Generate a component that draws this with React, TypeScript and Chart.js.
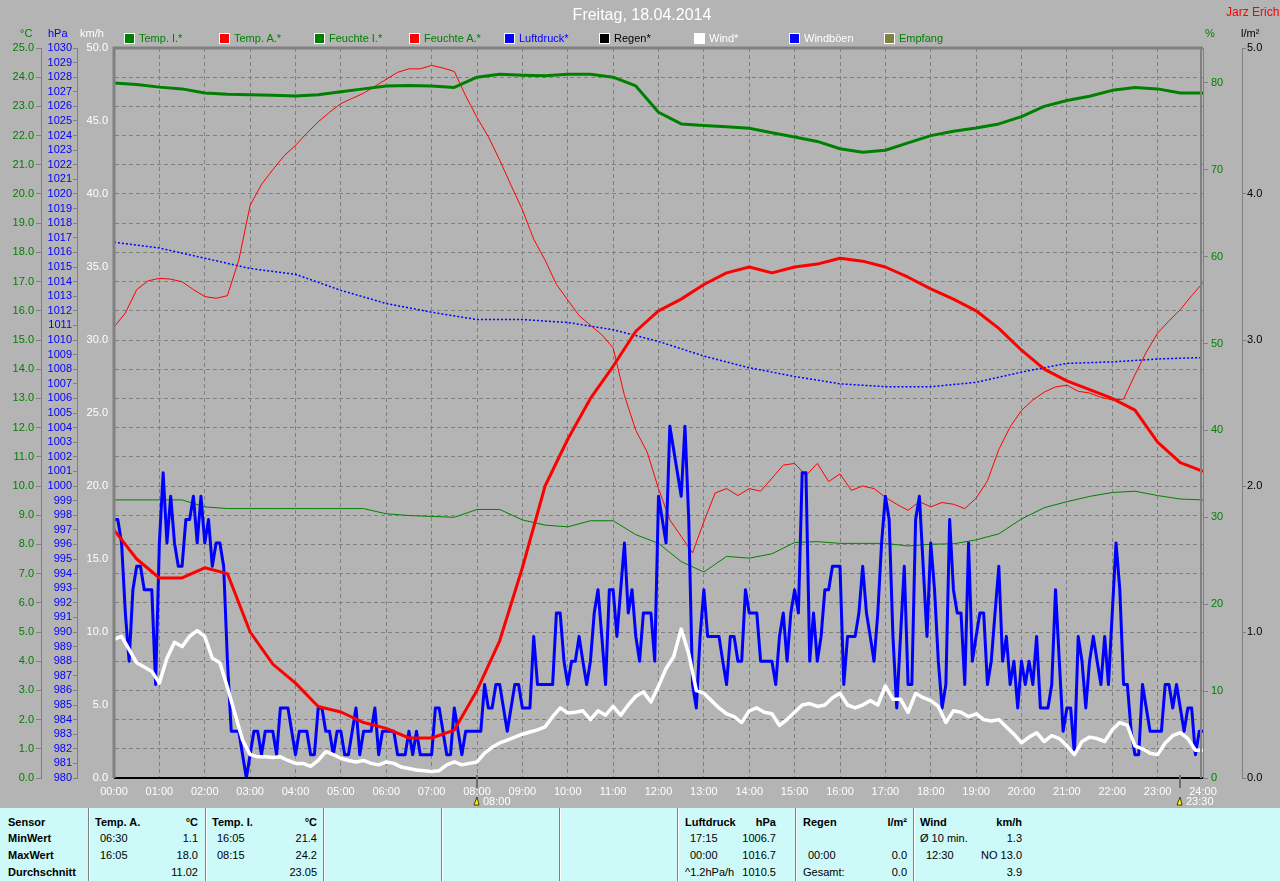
import React, { useEffect, useRef } from "react";
import { Chart, registerables } from "chart.js";

Chart.register(...registerables);

// ---------------- data ----------------
const hourLabels = Array.from({ length: 25 }, (_, h) => `${String(h).padStart(2, "0")}:00`);

// Temp. I. (°C), every 30 minutes
const tempInside = [
  23.8, 23.75, 23.66, 23.6, 23.46, 23.42, 23.4, 23.38, 23.36, 23.4, 23.5, 23.6,
  23.7, 23.72, 23.7, 23.65, 24.0, 24.1, 24.07, 24.05, 24.1, 24.1, 24.0, 23.7,
  22.8, 22.4, 22.35, 22.3, 22.25, 22.1, 21.95, 21.8, 21.55, 21.43, 21.5, 21.75,
  22.0, 22.15, 22.26, 22.4, 22.65, 23.0, 23.2, 23.35, 23.55, 23.65, 23.6, 23.46,
  23.46,
];

// Temp. A. (°C), every 30 minutes
const tempOutside = [
  8.5, 7.5, 6.85, 6.85, 7.2, 7.0, 5.0, 3.9, 3.25, 2.45, 2.26, 1.9,
  1.7, 1.37, 1.37, 1.64, 3.0, 4.7, 7.2, 10.0, 11.6, 13.0, 14.1, 15.3,
  16.0, 16.4, 16.9, 17.3, 17.5, 17.3, 17.5, 17.6, 17.8, 17.7, 17.5, 17.15,
  16.75, 16.4, 16.0, 15.4, 14.65, 14.0, 13.6, 13.3, 13.0, 12.6, 11.5, 10.8,
  10.5,
];

// Feuchte I. (%), every 30 minutes
const humInside = [
  32.0, 32.0, 32.0, 32.0, 31.2, 31.0, 31.0, 31.0, 31.0, 31.0, 31.0, 31.0,
  30.4, 30.2, 30.1, 30.0, 30.9, 30.9, 29.7, 29.1, 28.9, 29.6, 29.6, 28.0,
  27.0, 24.9, 23.7, 25.5, 25.3, 25.8, 27.1, 27.2, 27.0, 27.0, 27.0, 26.7,
  26.9, 26.95, 27.4, 28.1, 29.8, 31.1, 31.8, 32.4, 32.85, 33.0, 32.5, 32.1,
  32.0,
];

// Feuchte A. (%), every 15 minutes
const humOutside = [
  51.9, 53.5, 56.2, 57.2, 57.5, 57.4, 57.1, 56.2, 55.4, 55.2, 55.5, 59.6,
  65.9, 68.3, 70.0, 71.6, 72.8, 74.2, 75.5, 76.6, 77.6, 78.2, 78.8, 79.6,
  80.4, 81.2, 81.6, 81.6, 82.0, 81.7, 81.3, 78.5, 76.0, 73.8, 71.1, 68.2,
  65.4, 62.0, 59.6, 56.8, 55.0, 53.2, 52.1, 51.0, 49.5, 44.0, 40.0, 37.5,
  33.3, 29.7, 27.8, 25.9, 29.5, 32.8, 33.3, 32.5, 33.3, 33.0, 34.5, 36.0,
  36.2, 34.8, 36.2, 34.1, 35.0, 33.1, 33.6, 33.3, 32.3, 31.5, 30.8, 31.8,
  31.2, 31.7, 31.5, 31.0, 32.2, 34.2, 37.8, 40.4, 42.3, 43.5, 44.4, 45.0,
  45.2, 44.5, 44.3, 43.8, 43.5, 43.6, 46.4, 49.0, 51.2, 52.6, 53.9, 55.5,
  57.0,
];

// Luftdruck (hPa), hourly
const pressure = [
  1016.7, 1016.3, 1015.6, 1014.9, 1014.5, 1013.4, 1012.5, 1011.9, 1011.4, 1011.4,
  1011.2, 1010.7, 1009.9, 1008.9, 1008.1, 1007.5, 1007.0, 1006.8, 1006.8, 1007.1,
  1007.8, 1008.4, 1008.5, 1008.7, 1008.8,
];

// Regen (l/m²)
const rain = [0.0, 0.0];

// Wind (km/h), every 10 minutes
const windAvg = [
  9.5, 9.7, 8.8, 7.9, 7.6, 7.3,
  6.5, 8.2, 9.3, 9.0, 9.7, 10.1,
  9.7, 8.2, 7.9, 6.2, 4.4, 2.6,
  1.6, 1.45, 1.45, 1.4, 1.45, 1.2,
  1.0, 1.0, 0.8, 1.2, 1.8, 1.6,
  1.35, 1.2, 1.1, 1.2, 1.0, 0.9,
  1.1, 1.0, 0.75, 0.65, 0.55, 0.5,
  0.45, 0.5, 0.9, 1.1, 0.9, 1.0,
  1.1, 1.7, 2.1, 2.4, 2.6, 2.8,
  3.0, 3.15, 3.3, 3.5, 4.2, 4.8,
  4.45, 4.5, 4.6, 4.0, 4.6, 4.3,
  4.9, 4.3, 5.0, 5.6, 5.9, 5.2,
  6.3, 7.5, 8.3, 10.2, 8.5, 6.0,
  5.8, 5.3, 4.8, 4.4, 4.2, 3.8,
  4.6, 4.8, 4.5, 4.4, 3.6, 4.0,
  4.5, 5.0, 5.1, 4.9, 5.0, 5.5,
  5.8, 5.0, 4.8, 5.0, 5.3, 5.0,
  6.3, 5.4, 5.4, 4.5, 5.8, 5.5,
  5.3, 4.9, 3.8, 4.6, 4.5, 4.2,
  4.4, 4.0, 3.9, 4.0, 3.5, 3.0,
  2.4, 2.8, 3.1, 2.5, 2.9, 2.7,
  2.2, 1.6, 2.5, 2.8, 2.7, 2.5,
  3.3, 3.8, 3.6, 2.2, 2.0, 1.7,
  1.6, 2.4, 2.9, 3.1, 2.7, 1.9,
  1.9,
];

// Windböen (km/h), every 5 minutes
const windGust = [
  17.7, 17.7, 16.1, 11.3, 8.0, 12.9, 14.5, 14.5, 12.9, 12.9, 12.9, 6.4,
  16.1, 20.9, 16.1, 19.3, 16.1, 14.5, 14.5, 17.7, 17.7, 19.3, 16.1, 19.3,
  16.1, 17.7, 14.5, 16.1, 16.1, 14.5, 8.0, 3.2, 3.2, 3.2, 1.6, 0.0,
  1.6, 3.2, 3.2, 1.6, 3.2, 3.2, 3.2, 1.6, 4.8, 4.8, 4.8, 3.2,
  1.6, 3.2, 3.2, 3.2, 1.6, 1.6, 4.8, 4.8, 3.2, 3.2, 1.6, 3.2,
  3.2, 1.6, 1.6, 3.2, 4.8, 1.6, 3.2, 3.2, 3.2, 4.8, 1.6, 3.2,
  3.2, 3.2, 3.2, 1.6, 1.6, 1.6, 3.2, 1.6, 3.2, 1.6, 1.6, 1.6,
  1.6, 4.8, 4.8, 3.2, 1.6, 1.6, 4.8, 3.2, 1.6, 3.2, 3.2, 3.2,
  3.2, 3.2, 6.4, 4.8, 4.8, 6.4, 6.4, 4.8, 3.2, 4.8, 6.4, 6.4,
  4.8, 4.8, 4.8, 9.7, 6.4, 6.4, 6.4, 6.4, 6.4, 11.3, 11.3, 8.0,
  6.4, 8.0, 8.0, 9.7, 8.0, 6.4, 8.0, 11.3, 12.9, 9.7, 6.4, 12.9,
  12.9, 9.7, 12.9, 16.1, 11.3, 12.9, 9.7, 8.0, 11.3, 11.3, 11.3, 8.0,
  19.3, 17.7, 16.1, 24.1, 22.5, 20.9, 19.3, 24.1, 17.7, 6.4, 4.8, 9.7,
  12.9, 9.7, 9.7, 9.7, 9.7, 8.0, 6.4, 9.7, 9.7, 8.0, 8.0, 12.9,
  11.3, 11.3, 11.3, 8.0, 8.0, 8.0, 8.0, 6.4, 9.7, 11.3, 8.0, 11.3,
  12.9, 11.3, 20.9, 20.9, 8.0, 11.3, 8.0, 9.7, 12.9, 12.9, 14.5, 14.5,
  14.5, 6.4, 9.7, 9.7, 9.7, 11.3, 14.5, 11.3, 9.7, 8.0, 11.3, 16.1,
  19.3, 17.7, 9.7, 4.8, 9.7, 14.5, 6.4, 6.4, 17.7, 19.3, 14.5, 9.7,
  16.1, 12.9, 8.0, 4.8, 6.4, 17.7, 12.9, 11.3, 11.3, 6.4, 16.1, 8.0,
  9.7, 11.3, 11.3, 6.4, 8.0, 11.3, 14.5, 8.0, 9.7, 6.4, 8.0, 4.8,
  8.0, 6.4, 8.0, 6.4, 9.7, 4.8, 4.8, 4.8, 6.4, 12.9, 8.0, 3.2,
  4.8, 4.8, 1.6, 9.7, 8.0, 4.8, 8.0, 9.7, 8.0, 6.4, 9.7, 6.4,
  11.3, 16.1, 12.9, 6.4, 6.4, 3.2, 1.6, 1.6, 6.4, 4.8, 3.2, 3.2,
  3.2, 3.2, 6.4, 6.4, 4.8, 6.4, 4.8, 3.2, 4.8, 4.8, 1.6, 3.2,
  3.2,
];

const legendNames = ["Temp. I.*", "Temp. A.*", "Feuchte I.*", "Feuchte A.*", "Luftdruck*", "Regen*", "Wind*", "Windböen", "Empfang"];
const legendBoxColors = ["#008000", "#ff0000", "#008000", "#ff0000", "#0000ff", "#000000", "#ffffff", "#0000ff", "#808040"];
const legendTextColors = ["#008000", "#008000", "#008000", "#008000", "#0000ff", "#000000", "#ffffff", "#ffffff", "#008000"];

const markerHours = [8, 23.5];
const markerLabels = ["08:00", "23:30"];

// ---------------- helpers ----------------
const FONT = "'Liberation Sans', Arial, Helvetica, sans-serif";
const BG = "#b4b4b4";
const GRID = "#808080";

const toPoints = (values: number[], stepMinutes: number) =>
  values.map((v, i) => ({ x: (i * stepMinutes) / 60, y: v }));

const tickFont = { family: FONT, size: 11 };

const framePlugin = {
  id: "frame",
  afterDraw(chart: any) {
    const { ctx, chartArea: a, scales } = chart;
    ctx.save();
    ctx.strokeStyle = GRID;
    ctx.lineWidth = 3;
    ctx.beginPath();
    ctx.moveTo(a.left, a.bottom);
    ctx.lineTo(a.left, a.top);
    ctx.lineTo(a.right, a.top);
    ctx.stroke();
    ctx.lineWidth = 2;
    ctx.beginPath();
    ctx.moveTo(a.right - 2, a.top);
    ctx.lineTo(a.right - 2, a.bottom);
    ctx.stroke();
    markerHours.forEach((h, i) => {
      const x = Math.round(scales.x.getPixelForValue(h));
      ctx.strokeStyle = "#6e6e6e";
      ctx.lineWidth = 2;
      ctx.beginPath();
      ctx.moveTo(x, a.bottom - 3);
      ctx.lineTo(x, a.bottom + 10);
      ctx.stroke();
      ctx.fillStyle = "#ffff00";
      ctx.strokeStyle = "#404000";
      ctx.lineWidth = 1;
      ctx.beginPath();
      ctx.moveTo(x - 3, a.bottom + 27);
      ctx.lineTo(x + 2, a.bottom + 27);
      ctx.lineTo(x, a.bottom + 19);
      ctx.closePath();
      ctx.fill();
      ctx.stroke();
      ctx.fillStyle = "#ffffff";
      ctx.font = `11px ${FONT}`;
      ctx.textBaseline = "middle";
      ctx.textAlign = "left";
      ctx.fillText(markerLabels[i], x + 6, a.bottom + 24);
    });
    ctx.restore();
  },
};

const Txt = ({ x, y, color = "#000", bold = false, right = false, size = 11, children }: any) => (
  <div
    style={{
      position: "absolute",
      top: y - 7,
      ...(right ? { right: 1280 - x } : { left: x }),
      color,
      fontSize: size,
      fontWeight: bold ? "bold" : "normal",
      lineHeight: "14px",
      whiteSpace: "nowrap",
    }}
  >
    {children}
  </div>
);

export default function App() {
  const ref = useRef<HTMLCanvasElement>(null);

  useEffect(() => {
    const line = (label: string, data: any, color: string, width: number, yAxisID: string, order: number, extra: any = {}) => ({
      label,
      data,
      borderColor: color,
      backgroundColor: color,
      borderWidth: width,
      pointRadius: 0,
      fill: false,
      tension: 0,
      borderJoinStyle: "round",
      xAxisID: "x",
      yAxisID,
      order,
      ...extra,
    });

    const chart = new Chart(ref.current as HTMLCanvasElement, {
      type: "line",
      data: {
        datasets: [
          line("Regen", toPoints(rain, 1440), "#000000", 2, "yR", 0, { clip: false }),
          line("Temp. A.", toPoints(tempOutside, 30), "#ff0000", 3, "yC", 1),
          line("Temp. I.", toPoints(tempInside, 30), "#008000", 3, "yC", 2),
          line("Wind", toPoints(windAvg, 10), "#ffffff", 3.5, "yK", 3),
          line("Windböen", toPoints(windGust, 5), "#0000ff", 3, "yK", 4),
          line("Feuchte A.", toPoints(humOutside, 15), "#ff0000", 1, "yH", 5),
          line("Feuchte I.", toPoints(humInside, 30), "#008000", 1, "yH", 6),
          line("Luftdruck", toPoints(pressure, 60), "#0000ff", 1.5, "yP", 7, { borderDash: [2, 2] }),
        ],
      },
      options: {
        animation: false,
        responsive: false,
        devicePixelRatio: 1,
        layout: { padding: { top: 48, left: 0, right: 0, bottom: 0 } },
        plugins: {
          legend: { display: false },
          title: { display: false },
          tooltip: { enabled: false },
        },
        scales: {
          x: {
            type: "linear",
            position: "bottom",
            min: 0,
            max: 24,
            afterFit: (s: any) => { s.height = 30; },
            ticks: {
              stepSize: 1,
              autoSkip: false,
              maxRotation: 0,
              color: "#ffffff",
              font: tickFont,
              padding: 7,
              callback: (v: any) => hourLabels[v],
            },
            grid: { color: GRID, lineWidth: 1, drawTicks: false },
            border: { display: false, dash: [4, 3] },
          },
          yC: {
            type: "linear",
            position: "left",
            weight: 3,
            min: 0,
            max: 25,
            afterFit: (s: any) => { s.width = 41; },
            ticks: {
              stepSize: 1,
              autoSkip: false,
              maxTicksLimit: 100,
              color: "#008000",
              font: tickFont,
              padding: 2,
              callback: (v: any) => Number(v).toFixed(1),
            },
            grid: { color: GRID, lineWidth: 1, drawOnChartArea: true, drawTicks: true, tickLength: 5, tickColor: GRID, tickBorderDash: [] },
            border: { display: true, color: GRID, width: 1, dash: [4, 3] },
          },
          yP: {
            type: "linear",
            position: "left",
            weight: 2,
            min: 980,
            max: 1030,
            afterFit: (s: any) => { s.width = 36; },
            ticks: {
              stepSize: 1,
              autoSkip: false,
              maxTicksLimit: 100,
              color: "#0000ff",
              font: tickFont,
              padding: 1,
              callback: (v: any) => String(v),
            },
            grid: { drawOnChartArea: false, drawTicks: true, tickLength: 4, tickColor: GRID },
            border: { display: true, color: GRID, width: 1 },
          },
          yK: {
            type: "linear",
            position: "left",
            weight: 1,
            min: 0,
            max: 50,
            afterFit: (s: any) => { s.width = 37; },
            ticks: {
              stepSize: 5,
              autoSkip: false,
              color: "#ffffff",
              font: tickFont,
              padding: 6,
              callback: (v: any) => Number(v).toFixed(1),
            },
            grid: { drawOnChartArea: false, drawTicks: false },
            border: { display: false },
          },
          yH: {
            type: "linear",
            position: "right",
            weight: 1,
            min: 0,
            max: 84,
            afterFit: (s: any) => { s.width = 39; },
            ticks: {
              stepSize: 10,
              includeBounds: false,
              autoSkip: false,
              color: "#008000",
              font: tickFont,
              padding: 3,
              callback: (v: any) => String(v),
            },
            grid: { drawOnChartArea: false, drawTicks: true, tickLength: 5, tickColor: GRID },
            border: { display: true, color: GRID, width: 1 },
          },
          yR: {
            type: "linear",
            position: "right",
            weight: 2,
            min: 0,
            max: 5,
            afterFit: (s: any) => { s.width = 38; },
            ticks: {
              stepSize: 1,
              autoSkip: false,
              color: "#000000",
              font: tickFont,
              padding: 1,
              callback: (v: any) => Number(v).toFixed(1),
            },
            grid: { drawOnChartArea: false, drawTicks: true, tickLength: 4, tickColor: GRID },
            border: { display: true, color: GRID, width: 1 },
          },
        },
      },
      plugins: [framePlugin],
    } as any);
    return () => chart.destroy();
  }, []);

  const sepX = [88, 205, 323, 441, 559, 677, 795, 913];
  const rowY = [822, 838, 855, 872];

  return (
    <div
      style={{
        position: "absolute",
        left: 0,
        top: 0,
        width: 1280,
        height: 881,
        background: BG,
        overflow: "hidden",
        fontFamily: FONT,
      }}
    >
      <canvas ref={ref} width={1280} height={808} style={{ position: "absolute", left: 0, top: 0 }} />

      {/* title & owner */}
      <div style={{ position: "absolute", top: 6, left: 0, width: 1284, textAlign: "center", color: "#fff", fontSize: 16, lineHeight: "18px" }}>
        Freitag, 18.04.2014
      </div>
      <Txt x={1226} y={12} color="#ff0000" size={12}>Jarz Erich</Txt>

      {/* axis units */}
      <Txt x={20} y={33} color="#008000">°C</Txt>
      <Txt x={48} y={33} color="#0000ff">hPa</Txt>
      <Txt x={80} y={33} color="#ffffff">km/h</Txt>
      <Txt x={1205} y={33} color="#008000">%</Txt>
      <Txt x={1241} y={33} color="#000000">l/m²</Txt>

      {/* legend */}
      {legendNames.map((name, i) => (
        <React.Fragment key={name}>
          <div
            style={{
              position: "absolute",
              left: 124 + 95 * i,
              top: 33,
              width: 9,
              height: 9,
              background: legendBoxColors[i],
              border: "1px solid #ffffff",
            }}
          />
          <Txt x={139 + 95 * i} y={38} color={legendTextColors[i]}>{name}</Txt>
        </React.Fragment>
      ))}

      {/* statistics table */}
      <div style={{ position: "absolute", left: 0, top: 808, width: 1280, height: 73, background: "#cdf9f9" }} />
      {sepX.map((x) => (
        <React.Fragment key={x}>
          <div style={{ position: "absolute", left: x, top: 808, width: 1, height: 73, background: "#808080" }} />
          <div style={{ position: "absolute", left: x + 1, top: 808, width: 1, height: 73, background: "#ffffff" }} />
        </React.Fragment>
      ))}

      <Txt x={8} y={rowY[0]} bold>Sensor</Txt>
      <Txt x={8} y={rowY[1]} bold>MinWert</Txt>
      <Txt x={8} y={rowY[2]} bold>MaxWert</Txt>
      <Txt x={8} y={rowY[3]} bold>Durchschnitt</Txt>

      <Txt x={95} y={rowY[0]} bold>Temp. A.</Txt>
      <Txt x={198} y={rowY[0]} bold right>°C</Txt>
      <Txt x={100} y={rowY[1]}>06:30</Txt>
      <Txt x={198} y={rowY[1]} right>1.1</Txt>
      <Txt x={100} y={rowY[2]}>16:05</Txt>
      <Txt x={198} y={rowY[2]} right>18.0</Txt>
      <Txt x={198} y={rowY[3]} right>11.02</Txt>

      <Txt x={212} y={rowY[0]} bold>Temp. I.</Txt>
      <Txt x={317} y={rowY[0]} bold right>°C</Txt>
      <Txt x={217} y={rowY[1]}>16:05</Txt>
      <Txt x={317} y={rowY[1]} right>21.4</Txt>
      <Txt x={217} y={rowY[2]}>08:15</Txt>
      <Txt x={317} y={rowY[2]} right>24.2</Txt>
      <Txt x={317} y={rowY[3]} right>23.05</Txt>

      <Txt x={685} y={rowY[0]} bold>Luftdruck</Txt>
      <Txt x={776} y={rowY[0]} bold right>hPa</Txt>
      <Txt x={690} y={rowY[1]}>17:15</Txt>
      <Txt x={776} y={rowY[1]} right>1006.7</Txt>
      <Txt x={690} y={rowY[2]}>00:00</Txt>
      <Txt x={776} y={rowY[2]} right>1016.7</Txt>
      <Txt x={685} y={rowY[3]}>^1.2hPa/h</Txt>
      <Txt x={776} y={rowY[3]} right>1010.5</Txt>

      <Txt x={803} y={rowY[0]} bold>Regen</Txt>
      <Txt x={907} y={rowY[0]} bold right>l/m²</Txt>
      <Txt x={808} y={rowY[2]}>00:00</Txt>
      <Txt x={907} y={rowY[2]} right>0.0</Txt>
      <Txt x={803} y={rowY[3]}>Gesamt:</Txt>
      <Txt x={907} y={rowY[3]} right>0.0</Txt>

      <Txt x={920} y={rowY[0]} bold>Wind</Txt>
      <Txt x={1022} y={rowY[0]} bold right>km/h</Txt>
      <Txt x={920} y={rowY[1]}>Ø 10 min.</Txt>
      <Txt x={1022} y={rowY[1]} right>1.3</Txt>
      <Txt x={926} y={rowY[2]}>12:30</Txt>
      <Txt x={1022} y={rowY[2]} right>NO 13.0</Txt>
      <Txt x={1022} y={rowY[3]} right>3.9</Txt>
    </div>
  );
}
